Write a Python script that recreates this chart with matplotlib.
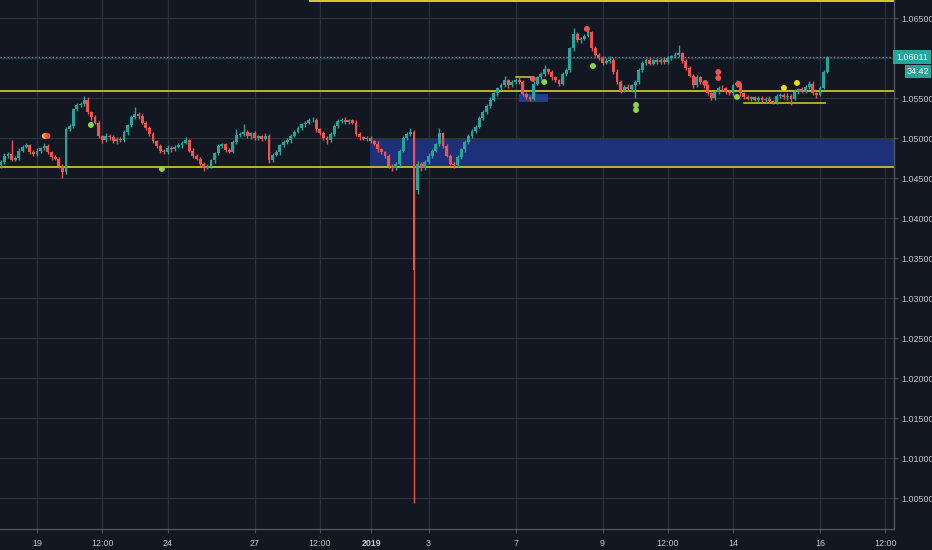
import matplotlib
matplotlib.use("Agg")
import matplotlib.pyplot as plt
from matplotlib.patches import Rectangle
from matplotlib import transforms, font_manager
import numpy as np

# ---- two-hour candles, x measured in trading days from 19 Dec ----
first_bar = -0.8333
bar_step = 1 / 12
first_open = 1.0466

closes = [
    1.0470, 1.0478, 1.0480, 1.0473, 1.0475, 1.0484, 1.0489, 1.0491, 1.0483, 1.0480,
    1.0484, 1.0487, 1.0490, 1.0482, 1.0476, 1.0474, 1.0465, 1.0457, 1.0511, 1.0515,
    1.0536, 1.0541, 1.0543, 1.0548, 1.0532, 1.0526, 1.0519, 1.0502, 1.0497, 1.0503,
    1.0501, 1.0496, 1.0499, 1.0497, 1.0507, 1.0516, 1.0526, 1.0530, 1.0527, 1.0519,
    1.0512, 1.0505, 1.0496, 1.0490, 1.0484, 1.0482, 1.0488, 1.0486, 1.0489, 1.0491,
    1.0494, 1.0497, 1.0484, 1.0478, 1.0474, 1.0468, 1.0463, 1.0465, 1.0472, 1.0481,
    1.0490, 1.0492, 1.0485, 1.0483, 1.0495, 1.0504, 1.0505, 1.0507, 1.0502, 1.0506,
    1.0500, 1.0502, 1.0499, 1.0503, 1.0472, 1.0479, 1.0482, 1.0491, 1.0495, 1.0497,
    1.0503, 1.0508, 1.0512, 1.0517, 1.0519, 1.0522, 1.0523, 1.0511, 1.0506, 1.0500,
    1.0497, 1.0505, 1.0515, 1.0521, 1.0523, 1.0520, 1.0522, 1.0519, 1.0505, 1.0501,
    1.0499, 1.0500, 1.0496, 1.0493, 1.0486, 1.0482, 1.0478, 1.0465, 1.0462, 1.0468,
    1.0484, 1.0500, 1.0505, 1.0508, 1.0335, 1.0468, 1.0462, 1.0470, 1.0478, 1.0484,
    1.0492, 1.0506, 1.0490, 1.0478, 1.0468, 1.0466, 1.0476, 1.0486, 1.0495, 1.0502,
    1.0509, 1.0514, 1.0525, 1.0533, 1.0540, 1.0548, 1.0556, 1.0562, 1.0566, 1.0572,
    1.0566, 1.0570, 1.0573, 1.0570, 1.0555, 1.0551, 1.0549, 1.0568, 1.0576, 1.0580,
    1.0586, 1.0582, 1.0576, 1.0572, 1.0568, 1.0580, 1.0585, 1.0612, 1.0630, 1.0622,
    1.0624, 1.0628, 1.0632, 1.0612, 1.0604, 1.0600, 1.0594, 1.0596, 1.0598, 1.0583,
    1.0570, 1.0559, 1.0564, 1.0561, 1.0566, 1.0570, 1.0585, 1.0594, 1.0598, 1.0593,
    1.0597, 1.0595, 1.0598, 1.0595, 1.0600, 1.0602, 1.0604, 1.0606, 1.0596, 1.0588,
    1.0578, 1.0566, 1.0576, 1.0570, 1.0566, 1.0556, 1.0550, 1.0557, 1.0563, 1.0562,
    1.0557, 1.0556, 1.0566, 1.0569, 1.0556, 1.0551, 1.0549, 1.0551, 1.0548, 1.0550,
    1.0547, 1.0549, 1.0546, 1.0545, 1.0552, 1.0554, 1.0551, 1.0553, 1.0549, 1.0558,
    1.0561, 1.0558, 1.0564, 1.0568, 1.0556, 1.0554, 1.0563, 1.0583, 1.06011,
]

# wick lengths beyond the body, in pips
wick_up = [
    2, 3, 2, 17, 2, 3, 2, 3, 2, 2,   3, 2, 4, 2, 2, 3, 2, 2, 3, 3,
    2, 3, 2, 5, 3, 2, 3, 2, 2, 3,    2, 3, 2, 2, 3, 2, 3, 9, 2, 3,
    2, 3, 2, 2, 3, 2, 3, 2, 2, 3,    2, 4, 2, 3, 2, 2, 2, 3, 2, 2,
    3, 2, 2, 3, 2, 7, 2, 10, 3, 2,   3, 2, 2, 3, 2, 2, 3, 2, 2, 3,
    2, 2, 3, 2, 2, 3, 3, 2, 2, 3,    2, 3, 2, 3, 2, 3, 2, 2, 3, 2,
    2, 3, 2, 2, 3, 2, 2, 2, 3, 2,    2, 3, 2, 4, 2, 3, 2, 2, 3, 2,
    2, 6, 2, 3, 2, 2, 3, 2, 2, 3,    2, 2, 3, 2, 2, 3, 2, 2, 3, 5,
    2, 3, 2, 3, 2, 2, 2, 3, 2, 3,    5, 2, 3, 2, 2, 3, 2, 2, 7, 3,
    2, 2, 5, 2, 3, 2, 3, 4, 4, 2,    3, 2, 2, 3, 2, 2, 3, 2, 2, 3,
    2, 3, 2, 3, 2, 2, 3, 10, 2, 3,   2, 2, 3, 2, 3, 2, 2, 3, 2, 3,
    2, 3, 2, 3, 2, 2, 3, 2, 2, 3,    2, 2, 3, 2, 3, 2, 2, 3, 2, 3,
    2, 3, 2, 3, 3, 2, 2, 2, 1,
]
wick_dn = [
    3, 2, 3, 2, 2, 3, 2, 2, 3, 2,    2, 3, 2, 2, 3, 2, 3, 7, 2, 2,
    3, 2, 2, 3, 2, 3, 2, 2, 3, 2,    3, 2, 3, 2, 2, 3, 2, 2, 3, 2,
    2, 3, 2, 2, 3, 2, 2, 3, 2, 2,    3, 2, 2, 3, 2, 3, 4, 2, 2, 3,
    2, 2, 3, 2, 2, 2, 3, 2, 2, 3,    2, 2, 3, 2, 3, 2, 2, 3, 2, 2,
    3, 2, 2, 2, 3, 2, 2, 3, 2, 3,    4, 2, 2, 3, 2, 2, 3, 2, 2, 3,
    2, 3, 2, 2, 3, 2, 3, 2, 3, 2,    3, 2, 2, 2, 291, 5, 3, 2, 2, 3,
    2, 2, 3, 2, 2, 4, 2, 2, 3, 2,    2, 3, 2, 2, 3, 2, 2, 3, 2, 2,
    3, 2, 2, 2, 3, 2, 3, 2, 2, 3,    2, 2, 3, 2, 3, 2, 2, 2, 3, 2,
    3, 2, 2, 3, 2, 2, 3, 2, 2, 3,    2, 3, 2, 2, 3, 16, 2, 2, 3, 2,
    2, 3, 2, 2, 3, 2, 2, 3, 2, 3,    2, 3, 2, 2, 3, 2, 3, 2, 2, 3,
    2, 2, 3, 2, 3, 2, 2, 3, 2, 3,    2, 3, 2, 2, 3, 2, 2, 3, 8, 2,
    3, 2, 2, 3, 2, 4, 2, 2, 2,
]
gap_opens = {115: 1.0435}

# horizontal levels and zones
level_upper = 1.05591
level_lower = 1.04634
level_top = 1.06713
level_top_start = 6.28
box_level = 1.05759
box_level_span = (11.0, 11.40)
range_floor = 1.05441
range_floor_span = (16.25, 18.12)
demand_zone = (7.655, 1.04654, 1.04984)
small_zone = (11.08, 11.75, 1.0545, 1.0555)

# signal dots: (day, price, colour)
dot_days = [0.18, 0.24, 1.24, 2.87, 11.40, 11.66, 12.64, 12.78, 13.77, 13.77,
            15.36, 15.66, 15.66, 16.12, 16.09, 17.17, 17.47]
dot_prices = [1.05025, 1.05025, 1.05163, 1.04613, 1.05738, 1.05700, 1.06363, 1.05900,
              1.05413, 1.05350, 1.05688, 1.05825, 1.05750, 1.05675, 1.05513, 1.05625, 1.05688]
dot_kinds = ["o", "r", "g", "g", "r", "g", "r", "g", "g", "g",
             "r", "r", "r", "r", "g", "y", "y"]

x_tick_days = [0, 1.5, 3, 5, 6.5, 7.68, 9, 11, 13, 14.5, 16, 18, 19.5]
x_tick_labels = ["19", "12:00", "24", "27", "12:00", "2019", "3", "7", "9",
                 "12:00", "14", "16", "12:00"]
y_ticks = [1.005, 1.010, 1.015, 1.020, 1.025, 1.030, 1.035, 1.040, 1.045,
           1.050, 1.055, 1.060, 1.065]
countdown = "34:42"

# ---- styling ----
BG = "#131722"
GRID = "#2e323d"
AXIS = "#50545f"
TEXT = "#c3c6ce"
UP = "#26a69a"
DOWN = "#ef5350"
YELLOW = "#d8cf2c"
ZONE = "#1d3079"
DOT_COLORS = {"r": "#ef5350", "g": "#8bd44a", "o": "#ffa726", "y": "#f5d712"}

installed = {f.name for f in font_manager.fontManager.ttflist}
if "Liberation Sans Narrow" in installed:
    FONT, FS = ["Liberation Sans Narrow", "DejaVu Sans"], 7.9
else:
    FONT, FS = ["Liberation Sans", "DejaVu Sans"], 6.4
plt.rcParams["font.family"] = FONT

fig = plt.figure(figsize=(9.32, 5.5), dpi=100, facecolor=BG)
ax = fig.add_axes([0, 21 / 550, 894 / 932, 529 / 550], facecolor=BG)
x_min, x_max = -0.8506, 19.70
y_min, y_max = 1.001125, 1.06725
ax.set_xlim(x_min, x_max)
ax.set_ylim(y_min, y_max)

# grid
for d in x_tick_days:
    ax.axvline(d, color=GRID, lw=0.9, zorder=0)
for p in y_ticks:
    ax.axhline(p, color=GRID, lw=0.9, zorder=0)

# zones
z_x0, z_lo, z_hi = demand_zone
ax.add_patch(Rectangle((z_x0, z_lo), x_max - z_x0, z_hi - z_lo,
                       facecolor=ZONE, edgecolor="none", zorder=1))
s_x0, s_x1, s_lo, s_hi = small_zone
ax.add_patch(Rectangle((s_x0, s_lo), s_x1 - s_x0, s_hi - s_lo,
                       facecolor="#2a45a8", edgecolor="none", alpha=0.8, zorder=1))

# levels
ax.axhline(level_upper, color=YELLOW, lw=1.2, zorder=2)
ax.axhline(level_lower, color=YELLOW, lw=1.2, zorder=2)
ax.plot([level_top_start, x_max], [level_top, level_top], color=YELLOW, lw=1.4,
        zorder=2, clip_on=False)
ax.plot(box_level_span, [box_level, box_level], color=YELLOW, lw=1.1, zorder=2)
ax.plot(range_floor_span, [range_floor, range_floor], color=YELLOW, lw=1.1, zorder=2)

# candles
c = np.array(closes)
n = len(c)
o = np.concatenate([[first_open], c[:-1]])
for k, v in gap_opens.items():
    o[k] = v
top = np.maximum(o, c)
bot = np.minimum(o, c)
hi = top + np.array(wick_up) * 1e-4
lo = bot - np.array(wick_dn) * 1e-4
xs = first_bar + np.arange(n) * bar_step
cols = np.where(c >= o, UP, DOWN)
ax.vlines(xs, lo, hi, colors=cols, lw=1.0, zorder=3)
heights = np.maximum(top - bot, 0.00006)
ax.bar(xs, heights, bottom=bot, width=bar_step * 0.8, color=cols,
       edgecolor="none", zorder=4)

# last price line
last = closes[-1]
ax.axhline(last, color=UP, lw=1.0, ls=(0, (1, 1.5)), zorder=2)

# dots
for d, p, k in zip(dot_days, dot_prices, dot_kinds):
    ax.scatter([d], [p], s=18, color=DOT_COLORS[k], edgecolors="none", zorder=6)

# axes
for side in ("left", "top"):
    ax.spines[side].set_visible(False)
for side in ("right", "bottom"):
    ax.spines[side].set_color(AXIS)
    ax.spines[side].set_linewidth(1.0)
ax.yaxis.tick_right()
ax.set_yticks(y_ticks)
ax.set_yticklabels(["" if abs(p - 1.060) < 1e-9 else f"{p:.5f}" for p in y_ticks])
ax.set_xticks(x_tick_days)
ax.set_xticklabels(x_tick_labels)
ax.tick_params(axis="both", colors=AXIS, labelcolor=TEXT, labelsize=FS,
               length=3, width=0.8)
ax.tick_params(axis="y", pad=2)
ax.tick_params(axis="x", pad=4)
for lab in ax.get_xticklabels():
    if lab.get_text() == "2019":
        lab.set_fontweight("bold")

# price and countdown tags on the scale
trans = transforms.blended_transform_factory(fig.transFigure, ax.transData)
px = (y_max - y_min) / 529.0
fig.patches.append(Rectangle((893 / 932, last - 7 * px), 38 / 932, 14 * px,
                             transform=trans, facecolor=UP, edgecolor="none",
                             zorder=10, figure=fig))
fig.text(912 / 932, last, f"{last:.5f}", transform=trans, color="white",
         fontsize=FS, ha="center", va="center", zorder=11)
fig.patches.append(Rectangle((905 / 932, last - 20.5 * px), 26 / 932, 13 * px,
                             transform=trans, facecolor=UP, edgecolor="none",
                             zorder=10, figure=fig))
fig.text(918 / 932, last - 14 * px, countdown, transform=trans, color="white",
         fontsize=FS, ha="center", va="center", zorder=11)

fig.savefig("out.png", dpi=100, facecolor=BG)
